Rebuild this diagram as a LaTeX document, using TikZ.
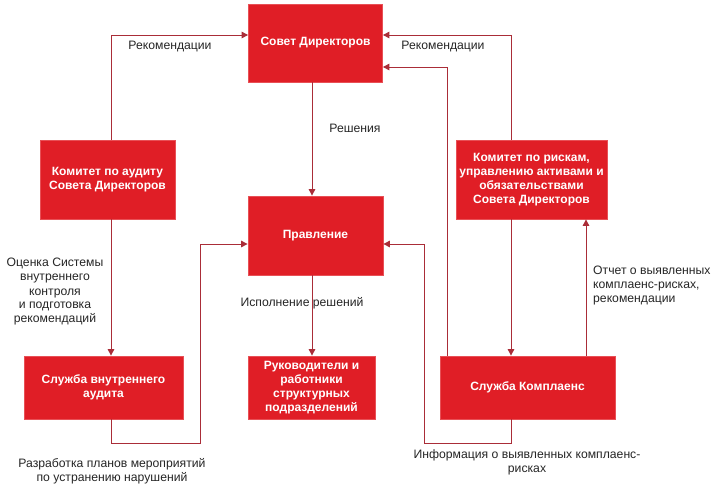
\documentclass[tikz,border=0pt]{standalone}
\usepackage{fontspec}
\setmainfont{Liberation Sans}
\usetikzlibrary{arrows.meta}
\definecolor{boxred}{RGB}{224,30,38}
\definecolor{boxedge}{RGB}{232,80,86}
\definecolor{linered}{RGB}{170,45,56}
\tikzset{
  box/.style={rectangle, fill=boxred, draw=boxedge, line width=0.8pt, text=white,
    font=\fontsize{12}{14}\selectfont\bfseries, align=center, inner sep=0pt},
  arr/.style={draw=linered, line width=1pt, -{Triangle[length=6.5pt,width=6.5pt]}},
  lbl/.style={font=\fontsize{12.2}{14}\selectfont, align=center, inner sep=0pt, text=black!85}
}
\begin{document}
\begin{tikzpicture}[x=1pt,y=-1pt]
\useasboundingbox[fill=white] (0,0) rectangle (716,499);
\node[box, minimum width=134pt, minimum height=78pt] (sd) at (315.5,43) {Совет Директоров};
\node[box, minimum width=135pt, minimum height=79pt] (ak) at (107.5,179.5) {Комитет по аудиту\\Совета Директоров};
\node[box, minimum width=135pt, minimum height=79pt] (pr) at (315.5,235.5) {Правление};
\node[box, minimum width=151pt, minimum height=79pt] (rk) at (531.5,179.5) {Комитет по рискам,\\управлению активами и\\обязательствами\\Совета Директоров};
\node[box, minimum width=159pt, minimum height=63pt] (sva) at (103.5,387.5) {Служба внутреннего\\аудита};
\node[box, minimum width=127pt, minimum height=63pt] (ruk) at (311.5,387.5) {Руководители и\\работники\\структурных\\подразделений};
\node[box, minimum width=175pt, minimum height=63pt] (kp) at (527.5,387.5) {Служба Комплаенс};

\draw[arr] (111,0 |- ak.north) |- (sd.west |- 0,35);
\draw[arr] (312,0 |- sd.south) -- (312,0 |- pr.north);
\draw[arr] (511,0 |- rk.north) |- (sd.east |- 0,35);
\draw[arr] (447,0 |- kp.north) |- (sd.east |- 0,67);
\draw[arr] (111,0 |- ak.south) -- (111,0 |- sva.north);
\draw[arr] (111,0 |- sva.south) -- (111,443) -| (200,244) -- (pr.west |- 0,244);
\draw[arr] (312,0 |- pr.south) -- (312,0 |- ruk.north);
\draw[arr] (511,0 |- rk.south) -- (511,0 |- kp.north);
\draw[arr] (586,0 |- kp.north) -- (586,0 |- rk.south);
\draw[arr] (511,0 |- kp.south) -- (511,443) -| (424,244) -- (pr.east |- 0,244);

\node[lbl] (l1) at (170,47) {Рекомендации};
\node[lbl] (l2) at (443,47) {Рекомендации};
\node[lbl] (l3) at (355,128) {Решения};
\node[lbl] (l4) at (55,292) {Оценка Системы\\внутреннего\\контроля\\и подготовка\\рекомендаций};
\node[lbl] (l5) at (302,303) {Исполнение решений};
\node[lbl] (l6) at (112,471) {Разработка планов мероприятий\\по устранению нарушений};
\node[lbl] (l7) at (527,462) {Информация о выявленных комплаенс-\\рисках};
\node[lbl, align=left, anchor=west] (l8) at (593,286) {Отчет о выявленных\\комплаенс-рисках,\\рекомендации};
\end{tikzpicture}
\end{document}
